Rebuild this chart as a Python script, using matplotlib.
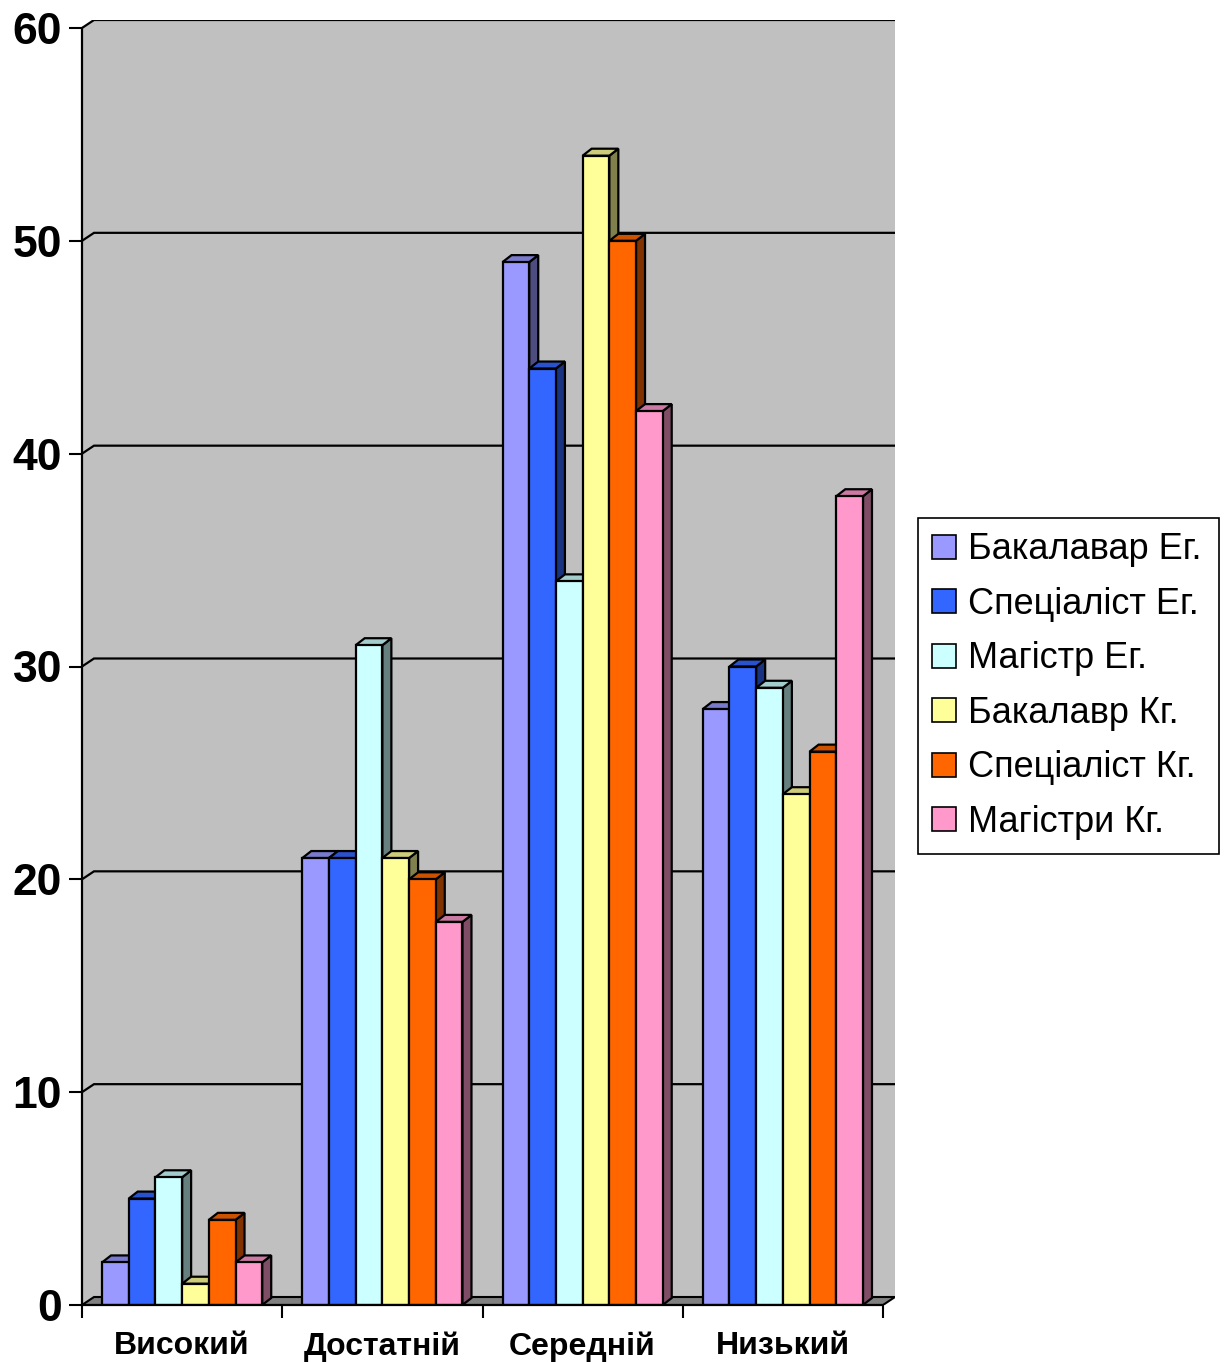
import matplotlib.pyplot as plt
from matplotlib.patches import Polygon, Patch
import numpy as np

plt.rcParams['font.family'] = ['Liberation Sans', 'DejaVu Sans']

levels = ['Високий', 'Достатній', 'Середній', 'Низький']
series = ['Бакалавар Ег.', 'Спеціаліст Ег.', 'Магістр Ег.',
          'Бакалавр Кг.', 'Спеціаліст Кг.', 'Магістри Кг.']
bak_eg = [2, 21, 49, 28]
spec_eg = [5, 21, 44, 30]
mag_eg = [6, 31, 34, 29]
bak_kg = [1, 21, 54, 24]
spec_kg = [4, 20, 50, 26]
mag_kg = [2, 18, 42, 38]
colors = ['#9999FF', '#3366FF', '#CCFFFF', '#FFFF99', '#FF6600', '#FF99CC']
yticks = [0, 10, 20, 30, 40, 50, 60]


def shade(c, k):
    r, g, b = (int(c[i:i + 2], 16) / 255 for i in (1, 3, 5))
    return (r * k, g * k, b * k)


def main():
    W, H = 1231, 1362
    fig = plt.figure(figsize=(W / 100, H / 100), dpi=100)

    # front plane in pixels, depth offsets of the wall and the bars
    x0, x4 = 82, 883
    y0, y60 = 1305, 28
    ux = (x4 - x0) / 4.0
    uy = (y0 - y60) / 60.0
    wdx, wdy = 12 / ux, 8 / uy
    bdx, bdy = 9 / ux, 7 / uy

    ax = fig.add_axes([x0 / W, 1 - y0 / H,
                       (x4 - x0 + 12) / W, (y0 - y60 + 8) / H])
    ax.set_xlim(0, 4 + wdx)
    ax.set_ylim(0, 60 + wdy)
    ax.patch.set_visible(False)

    # back wall + floor
    wall = Polygon([(0, 0), (0, 60), (wdx, 60 + wdy), (4 + wdx, 60 + wdy),
                    (4 + wdx, wdy), (4, 0)], closed=True,
                   facecolor='#C0C0C0', edgecolor='none', zorder=0)
    ax.add_patch(wall)
    for v in yticks[1:]:
        ax.plot([0, wdx, 4 + wdx], [v, v + wdy, v + wdy], color='black',
                lw=1.6, zorder=1, solid_joinstyle='miter')
    floor = Polygon([(0, 0), (4, 0), (4 + wdx, wdy), (wdx, wdy)], closed=True,
                    facecolor='#808080', edgecolor='black', lw=1.5, zorder=1.5)
    ax.add_patch(floor)

    data = [bak_eg, spec_eg, mag_eg, bak_kg, spec_kg, mag_kg]
    bw = 0.8 / len(data)
    cats = np.arange(len(levels))
    for i, (vals, col) in enumerate(zip(data, colors)):
        lefts = cats + 0.1 + i * bw
        for l, v in zip(lefts, vals):
            top = Polygon([(l, v), (l + bw, v), (l + bw + bdx, v + bdy),
                           (l + bdx, v + bdy)], closed=True,
                          facecolor=shade(col, 0.8), edgecolor='black',
                          lw=1.6, zorder=3 + 2 * i)
            side = Polygon([(l + bw, 0), (l + bw + bdx, bdy),
                            (l + bw + bdx, v + bdy), (l + bw, v)], closed=True,
                           facecolor=shade(col, 0.5), edgecolor='black',
                           lw=1.6, zorder=3 + 2 * i)
            ax.add_patch(side)
            ax.add_patch(top)
        ax.bar(lefts, vals, width=bw, align='edge', color=col,
               edgecolor='black', linewidth=1.6, zorder=4 + 2 * i)

    for s in ('top', 'right'):
        ax.spines[s].set_visible(False)
    ax.spines['left'].set_bounds(0, 60)
    ax.spines['bottom'].set_bounds(0, 4)
    for s in ('left', 'bottom'):
        ax.spines[s].set_linewidth(1.6)
        ax.spines[s].set_zorder(20)

    ax.set_yticks(yticks)
    ax.set_yticklabels([str(v) for v in yticks], fontsize=32, fontweight='bold')
    ax.tick_params(axis='y', length=9.4, width=1.5, pad=5)
    ax.set_xticks(range(5))
    ax.set_xticklabels([])
    ax.tick_params(axis='x', which='major', length=9.4, width=1.5)
    ax.set_xticks(cats + 0.5, minor=True)
    ax.set_xticklabels(levels, minor=True, fontsize=23, fontweight='bold')
    ax.tick_params(axis='x', which='minor', length=0, pad=19)

    handles = [Patch(facecolor=c, edgecolor='black', lw=1.2) for c in colors]
    leg = fig.legend(handles, series, loc='upper left',
                     bbox_to_anchor=(918 / W, 1 - 845 / H, (1219 - 918) / W,
                                     (845 - 518) / H),
                     mode='expand', borderaxespad=0, fontsize=26,
                     handlelength=0.66, handleheight=0.66, handletextpad=0.32,
                     labelspacing=0.54, borderpad=0.4, fancybox=False,
                     edgecolor='black', framealpha=1)
    leg.get_frame().set_linewidth(1.2)

    fig.savefig('out.png', dpi=100)


if __name__ == '__main__':
    main()
